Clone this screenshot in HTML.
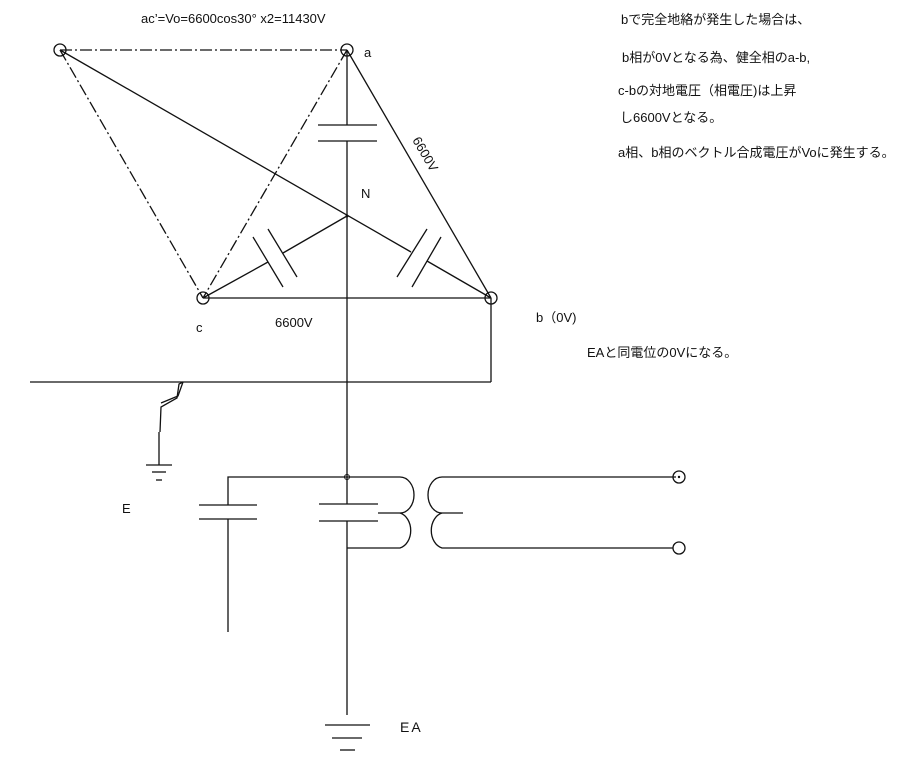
<!DOCTYPE html>
<html><head><meta charset="utf-8"><style>
html,body{margin:0;padding:0;background:#fff;}
svg{display:block;}
text{font-family:"Liberation Sans","Noto Sans CJK JP",sans-serif;fill:#111;}
</style></head><body>
<svg width="913" height="758" viewBox="0 0 913 758" xmlns="http://www.w3.org/2000/svg">
<g stroke="#111" stroke-width="1.3" fill="none">
<g stroke-dasharray="12,3,2,3">
<line x1="60" y1="50" x2="347" y2="50"/>
<line x1="60" y1="50" x2="203" y2="298"/>
<line x1="347" y1="50" x2="203" y2="298"/>
</g>
<line x1="60" y1="50" x2="411" y2="252"/>
<line x1="427" y1="261" x2="491" y2="298"/>
<line x1="347" y1="50" x2="491" y2="298"/>
<line x1="203" y1="298" x2="491" y2="298"/>
<line x1="347" y1="50" x2="347" y2="125"/>
<line x1="347" y1="141" x2="347" y2="504"/>
<line x1="318" y1="125" x2="377" y2="125"/>
<line x1="318" y1="141" x2="377" y2="141"/>
<line x1="203" y1="298" x2="268" y2="262"/>
<line x1="283" y1="253" x2="347" y2="216"/>
<line x1="253" y1="237" x2="283" y2="287"/>
<line x1="268" y1="229" x2="297" y2="277"/>
<line x1="397" y1="277" x2="427" y2="229"/>
<line x1="412" y1="287" x2="441" y2="237"/>
<line x1="491" y1="298" x2="491" y2="382"/>
<line x1="30" y1="382" x2="491" y2="382"/>
<polyline points="183,382 179,384 177,398 161,407 160,432"/>
<polyline points="183,382 178,396 161,403"/>
<line x1="159" y1="432" x2="159" y2="465"/>
<line x1="146" y1="465" x2="172" y2="465"/>
<line x1="152" y1="472" x2="166" y2="472"/>
<line x1="156" y1="480" x2="162" y2="480"/>
<polyline points="348,477 228,477 228,505"/>
<line x1="228" y1="519" x2="228" y2="632"/>
<line x1="199" y1="505" x2="257" y2="505"/>
<line x1="199" y1="519" x2="257" y2="519"/>
<line x1="319" y1="504" x2="378" y2="504"/>
<line x1="319" y1="521" x2="378" y2="521"/>
<line x1="347" y1="521" x2="347" y2="715"/>
<path d="M348,477 H400 A14,18 0 0 1 400,513 A14,18 0 0 1 400,548 H347"/>
<line x1="378" y1="513" x2="400" y2="513"/>
<path d="M676,477 H442 A14,18 0 0 0 442,513 A14,18 0 0 0 442,548 H673"/>
<line x1="442" y1="513" x2="463" y2="513"/>
<line x1="325" y1="725" x2="370" y2="725"/>
<line x1="332" y1="738" x2="362" y2="738"/>
<line x1="340" y1="750" x2="355" y2="750"/>
<circle cx="60" cy="50" r="6"/>
<circle cx="347" cy="50" r="6"/>
<circle cx="203" cy="298" r="6"/>
<circle cx="491" cy="298" r="6"/>
<circle cx="679" cy="477" r="6"/>
<circle cx="679" cy="548" r="6"/>
</g>
<circle cx="347" cy="477" r="2.5" fill="none" stroke="#111"/>
<circle cx="679" cy="477" r="1.2" fill="#111"/>
<circle cx="347" cy="216" r="1.5" fill="#111"/>
<g font-size="13">
<text x="141" y="23">ac’=Vo=6600cos30°  x2=11430V</text>
<text x="364" y="57">a</text>
<text x="361" y="198">N</text>
<text x="196" y="332">c</text>
<text x="275" y="327">6600V</text>
<text x="122" y="513">E</text>
<text x="400" y="732" font-size="14" letter-spacing="2">EA</text>
<text transform="translate(412,140) rotate(60)">6600V</text>
<text x="621" y="24">bで完全地絡が発生した場合は、</text>
<text x="622" y="62">b相が0Vとなる為、健全相のa-b,</text>
<text x="618" y="95">c-bの対地電圧（相電圧)は上昇</text>
<text x="620" y="122">し6600Vとなる。</text>
<text x="618" y="157">a相、b相のベクトル合成電圧がVoに発生する。</text>
<text x="536" y="322">b（0V)</text>
<text x="587" y="357">EAと同電位の0Vになる。</text>
</g>
</svg>
</body></html>
